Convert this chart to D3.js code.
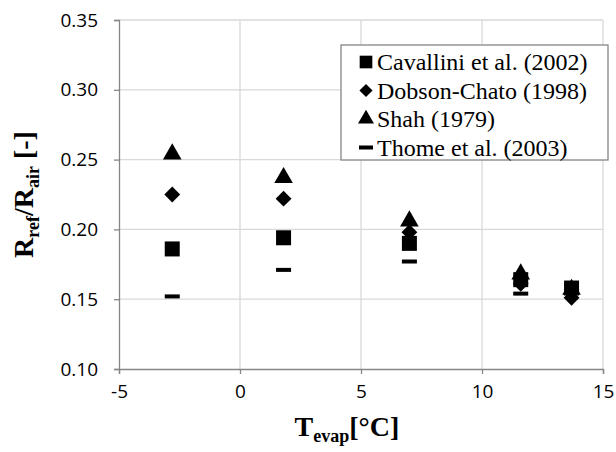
<!DOCTYPE html>
<html>
<head>
<meta charset="utf-8">
<script src="https://cdn.jsdelivr.net/npm/d3@7"></script>
<style>
  body { margin: 0; background: #fff; }
  svg { display: block; }
</style>
</head>
<body>
<div id="chart"></div>
<script>
// evaporating temperature [°C]
const temps = [-2.8, 1.8, 7.0, 11.6, 13.7];

// ratio R_ref / R_air for each correlation
const cavallini = [0.186, 0.194, 0.190, 0.164, 0.158];
const dobson    = [0.225, 0.222, 0.198, 0.161, 0.151];
const shah      = [0.254, 0.237, 0.206, 0.168, 0.157];
const thome     = [0.152, 0.171, 0.177, 0.154, 0.156];

const seriesNames = ["Cavallini et al. (2002)", "Dobson-Chato (1998)", "Shah (1979)", "Thome et al. (2003)"];
const xTicks = [-5, 0, 5, 10, 15];
const yTicks = [0.10, 0.15, 0.20, 0.25, 0.30, 0.35];

const W = 616, H = 452;
const margin = {left: 119, right: 13, top: 20, bottom: 83};

const svg = d3.select('#chart').append('svg')
    .attr("width", W)
    .attr("height", H);

const x = d3.scaleLinear().domain([-5, 15]).range([margin.left, W - margin.right]);
const y = d3.scaleLinear().domain([0.10, 0.35]).range([H - margin.bottom, margin.top]);

// gridlines
svg.append("g").selectAll("line")
  .data(yTicks.slice(1))
  .enter().append("line")
    .attr("x1", x(-5)).attr("x2", x(15))
    .attr("y1", d => y(d)).attr("y2", d => y(d))
    .attr("stroke", "#d9d9d9").attr("stroke-width", 1.3);
svg.append("g").selectAll("line")
  .data(xTicks.slice(1))
  .enter().append("line")
    .attr("x1", d => x(d)).attr("x2", d => x(d))
    .attr("y1", y(0.10)).attr("y2", y(0.35))
    .attr("stroke", "#d9d9d9").attr("stroke-width", 1.3);

// axes (plain hyphen for negatives, like the original)
const xAxis = svg.append("g")
    .attr("transform", `translate(0,${y(0.10)})`)
    .call(d3.axisBottom(x).tickValues(xTicks).tickSize(5).tickPadding(11).tickFormat(d => String(d)));
const yAxis = svg.append("g")
    .attr("transform", `translate(${x(-5)},0)`)
    .call(d3.axisLeft(y).tickValues(yTicks).tickSize(5).tickPadding(16).tickFormat(d => d.toFixed(2)));

[xAxis, yAxis].forEach(a => {
  a.select(".domain").attr("stroke", "#868686").attr("stroke-width", 1.3);
  a.selectAll(".tick line").attr("stroke", "#868686").attr("stroke-width", 1.3);
  a.selectAll("text")
    .attr("font-family", "'Open Sans', sans-serif")
    .attr("font-size", 19)
    .attr("fill", "#000");
});
xAxis.selectAll("text").attr("dy", "0.71em");

// markers
const sym = [
  d3.symbol().type(d3.symbolSquare).size(225),
  d3.symbol().type(d3.symbolDiamond2).size(160),
  d3.symbol().type(d3.symbolTriangle).size(150),
  null
];
const allSeries = [cavallini, dobson, shah, thome];

allSeries.forEach((vals, si) => {
  const g = svg.append("g");
  const pts = g.selectAll("g").data(vals).enter().append("g")
    .attr("transform", (d, i) => `translate(${x(temps[i])},${y(d)})`);
  if (si < 3) {
    pts.append("path").attr("d", sym[si]).attr("fill", "#000");
  } else {
    pts.append("rect").attr("x", -7.5).attr("y", -2).attr("width", 15).attr("height", 4).attr("fill", "#000");
  }
});

// legend
const lg = svg.append("g");
lg.append("rect")
  .attr("x", 341).attr("y", 45).attr("width", 267).attr("height", 115)
  .attr("fill", "#fff").attr("stroke", "#868686").attr("stroke-width", 1.3);
seriesNames.forEach((name, i) => {
  const ry = 62 + i * 28.5;
  const item = lg.append("g").attr("transform", `translate(366,${ry})`);
  if (i < 3) {
    const s = d3.symbol().type([d3.symbolSquare, d3.symbolDiamond2, d3.symbolTriangle][i]).size([160, 110, 110][i]);
    item.append("path").attr("d", s).attr("fill", "#000");
  } else {
    item.append("rect").attr("x", -7).attr("y", -2).attr("width", 14).attr("height", 4).attr("fill", "#000");
  }
  item.append("text")
    .attr("x", 11).attr("y", 0).attr("dy", "0.35em")
    .attr("font-family", "'Liberation Serif', 'Times New Roman', serif")
    .attr("font-size", 24)
    .text(name);
});

// axis titles
const xt = svg.append("text")
  .attr("x", (x(-5) + x(15)) / 2 - 14).attr("y", 436)
  .attr("text-anchor", "middle")
  .attr("font-family", "'Liberation Serif', 'Times New Roman', serif")
  .attr("font-weight", "bold")
  .attr("font-size", 28);
xt.append("tspan").text("T");
xt.append("tspan").attr("font-size", 18).attr("dy", 6).text("evap");
xt.append("tspan").attr("dy", -6).text("[°C]");

const yt = svg.append("text")
  .attr("transform", `translate(33,${(y(0.10) + y(0.35)) / 2}) rotate(-90)`)
  .attr("text-anchor", "middle")
  .attr("font-family", "'Liberation Serif', 'Times New Roman', serif")
  .attr("font-weight", "bold")
  .attr("font-size", 28);
yt.append("tspan").text("R");
yt.append("tspan").attr("font-size", 18).attr("dy", 6).text("ref");
yt.append("tspan").attr("dy", -6).text("/R");
yt.append("tspan").attr("font-size", 18).attr("dy", 6).text("air");
yt.append("tspan").attr("dy", -6).text(" [-]");
</script>
</body>
</html>
